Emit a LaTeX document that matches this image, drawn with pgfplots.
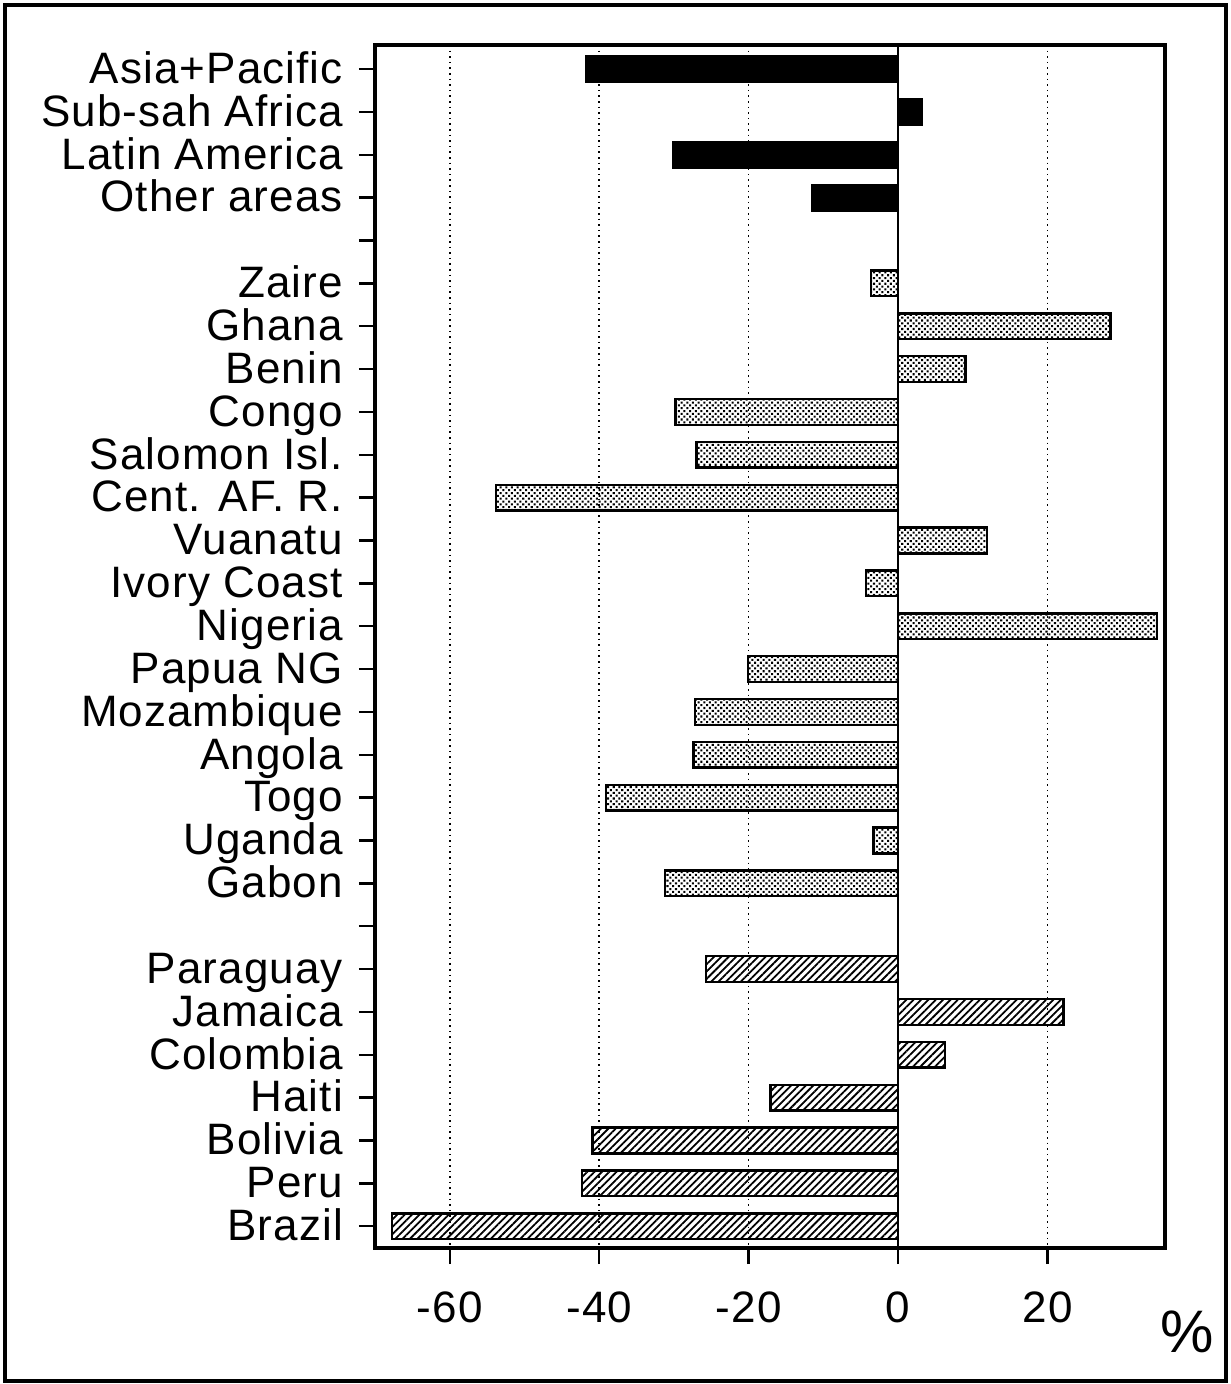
\documentclass[border=0pt]{standalone}
\usepackage{pgfplots}
\pgfplotsset{compat=1.18}
\usepackage{fontspec}
\setmainfont{Liberation Sans}[LetterSpace=2.5]
\usetikzlibrary{patterns.meta}
\begin{document}
\begin{tikzpicture}
\begin{axis}[
 at={(0,0)}, anchor=south west, scale only axis,
 width=197.5pt, height=300.75pt,
 xmin=-70, xmax=35.7, ymin=0.44, ymax=28.51, y dir=reverse,
 xtick={-60,-40,-20,0,20}, xticklabels={-60,-40,-20,0,20},
 ytick={1,...,28},
 yticklabels={Asia+Pacific,Sub-sah Africa,Latin America,Other areas,{},Zaire,Ghana,Benin,Congo,Salomon Isl.,Cent. AF. R.,Vuanatu,Ivory Coast,Nigeria,Papua NG,Mozambique,Angola,Togo,Uganda,Gabon,{},Paraguay,Jamaica,Colombia,Haiti,Bolivia,Peru,Brazil},
 tick align=outside, major tick length=4pt, tick style={black, line width=0.6pt},
 xtick pos=bottom, ytick pos=left,
 xmajorgrids, grid style={black, densely dotted, line width=0.4pt},
 axis line style={line width=0.8pt},
 ticklabel style={font=\fontsize{11}{13}\selectfont},
 yticklabel style={text height=8pt, text depth=0.8pt, xshift=-0.5pt},
 xticklabel style={yshift=-3.5pt},
 bar width=0.6, bar shift=0pt,
]
\draw[black, line width=0.5pt] (axis cs:0,0.44) -- (axis cs:0,28.51);
\addplot[xbar, fill=black, draw=black, line width=0.6pt] coordinates {(-41.7,1) (3.1,2) (-30.1,3) (-11.5,4)};
\addplot[xbar, draw=black, line width=0.6pt, pattern={Dots[distance=1pt, radius=0.36pt, angle=45]}] coordinates {
(-3.6,6) (28.4,7) (9.0,8) (-29.8,9) (-27.0,10) (-53.8,11) (11.9,12) (-4.3,13) (34.6,14) (-20.1,15) (-27.2,16) (-27.4,17) (-39.1,18) (-3.3,19) (-31.2,20)};
\addplot[xbar, draw=black, line width=0.6pt, pattern={Lines[angle=45, distance=1.3pt, line width=0.45pt]}] coordinates {
(-25.7,22) (22.1,23) (6.3,24) (-17.1,25) (-40.9,26) (-42.3,27) (-67.7,28)};
\end{axis}
\node[font=\fontsize{15}{18}\selectfont] at (203pt,-21pt) {\%};
\draw[black, line width=0.9pt] (-92.5pt,-33.25pt) rectangle (212.75pt,310.75pt);
\pgfresetboundingbox
\path[use as bounding box] (-93.75pt,-34pt) rectangle (214pt,312pt);
\end{tikzpicture}
\end{document}
